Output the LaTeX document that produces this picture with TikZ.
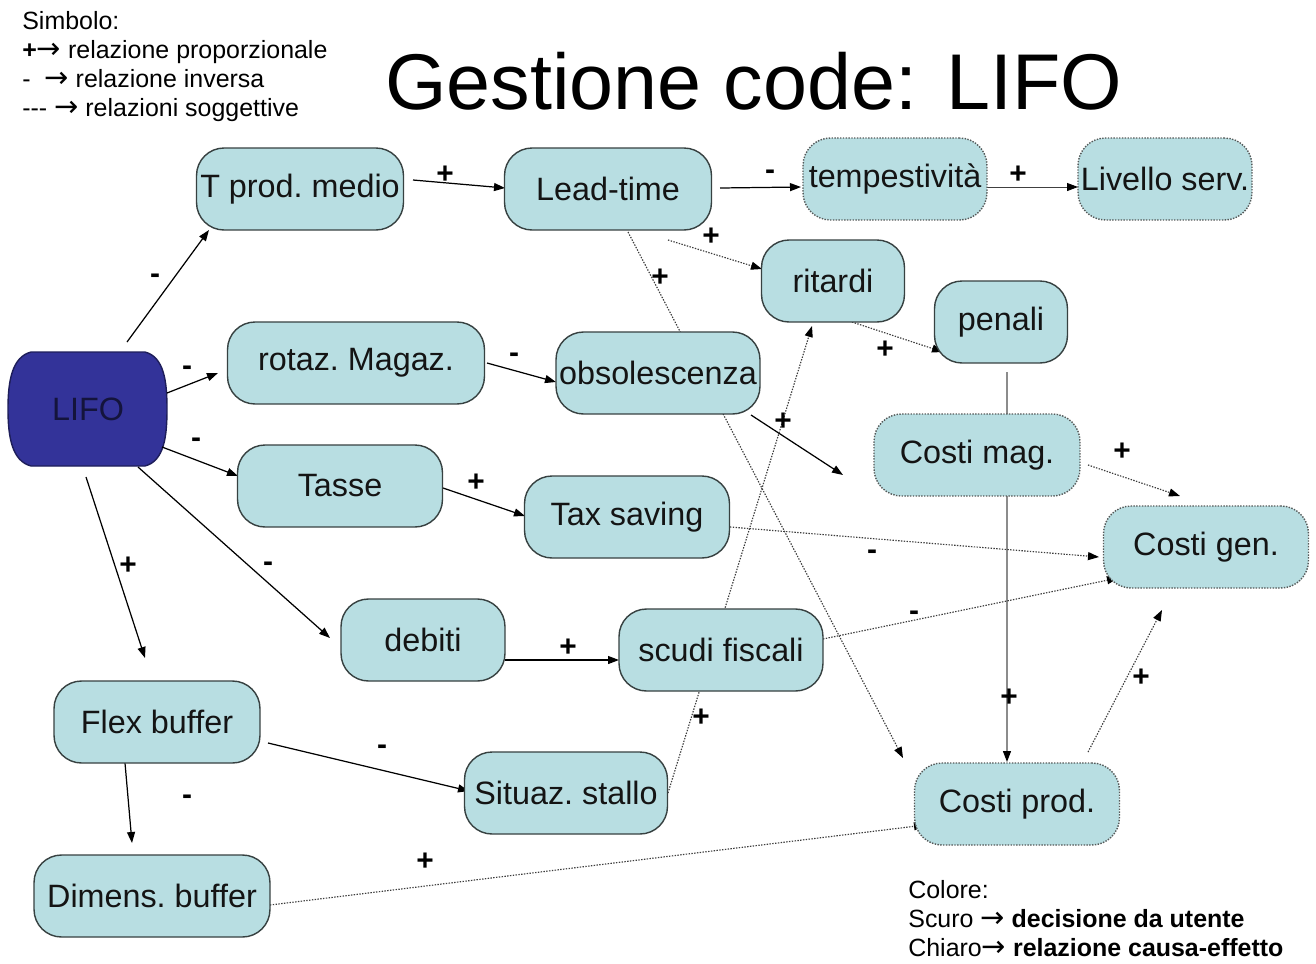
\documentclass[tikz,border=0pt]{standalone}
\usepackage{fontspec}
\setmainfont{Liberation Sans}
\newfontfamily\arrowfont{DejaVu Sans}
\usetikzlibrary{arrows.meta}
\pgfdeclarelayer{backdrop}
\pgfdeclarelayer{behind}
\pgfsetlayers{backdrop,behind,main}

\definecolor{boxfill}{RGB}{184,222,226}
\definecolor{boxline}{RGB}{55,65,65}
\definecolor{dotline}{RGB}{85,90,90}
\definecolor{lifofill}{RGB}{51,51,153}
\definecolor{lifoline}{RGB}{30,30,90}
\definecolor{lifotext}{RGB}{20,20,60}
\definecolor{ink}{RGB}{20,20,20}
\definecolor{softline}{RGB}{60,60,60}
\definecolor{greyline}{RGB}{140,140,140}

\newcommand\nodetextfont{\fontsize{18.4}{22}\selectfont\frenchspacing}
\newcommand\signtextfont{\fontsize{17}{18}\selectfont\bfseries}
\newcommand\legendtextfont{\fontsize{14.2}{16.5}\selectfont}
\newcommand\headingfont{\fontsize{45}{54}\selectfont}
\newcommand\legarrow{{\arrowfont\fontsize{16.5}{16.5}\selectfont →}}

\begin{document}
\begin{tikzpicture}[x=0.02cm, y=-0.02cm,
  box/.style={draw=boxline, line width=0.8pt, fill=boxfill, rounded corners=0.55cm,
    minimum height=1.64cm, inner sep=0pt, font=\nodetextfont, text=ink},
  dbox/.style={box, draw=dotline, dash pattern=on 0.8pt off 0.8pt},
  tip/.style={-{Triangle[length=2.2mm,width=1.6mm,color=black]}},
  rel/.style={draw=black, line width=0.7pt, tip},
  soft/.style={draw=softline, line width=0.65pt, dash pattern=on 0.8pt off 0.8pt, tip},
  plainrel/.style={draw=greyline, line width=0.7pt, tip},
  thinrel/.style={draw=black!75, line width=0.5pt, tip},
  sign/.style={font=\signtextfont, inner sep=0pt, text=black},
  legend/.style={anchor=north west, align=left, inner sep=0pt, font=\legendtextfont, text=black}
]
\useasboundingbox (0,0) rectangle (1316,964);
\begin{pgfonlayer}{backdrop}
  \fill[white] (0,0) rectangle (1316,964);
\end{pgfonlayer}

% heading and legends
\node[anchor=base west, inner sep=0pt, font=\headingfont, text=black] (title) at (385,109) {Gestione code: LIFO};
\node[legend] (symbols) at (22,11) {Simbolo:\\\textbf{+}\legarrow{} relazione proporzionale\\-\ \ \legarrow{} relazione inversa\\-{}-{}- \legarrow{} relazioni soggettive};
\node[legend] (colours) at (908,880) {Colore:\\Scuro \legarrow{} \textbf{decisione da utente}\\Chiaro\legarrow{} \textbf{relazione causa-effetto}};

% decision node
\node[minimum width=3.16cm, minimum height=2.28cm, inner sep=0pt, font=\nodetextfont, text=lifotext] (lifo) at (88,409) {LIFO};

% cause-effect nodes
\node[box, minimum width=4.14cm] (tprod) at (300,189) {T prod. medio};
\node[box, minimum width=4.14cm] (lead) at (608,189) {Lead-time};
\node[dbox, minimum width=3.68cm] (temp) at (895,179) {tempestività};
\node[dbox, minimum width=3.48cm] (liv) at (1165,179) {Livello serv.};
\node[box, minimum width=2.86cm] (rit) at (833,281) {ritardi};
\node[box, minimum width=2.66cm] (pen) at (1001,322) {penali};
\node[box, minimum width=5.14cm] (rot) at (356,363) {rotaz. Magaz.};
\node[box, minimum width=4.08cm] (obs) at (658,373) {obsolescenza};
\node[dbox, minimum width=4.12cm] (cmag) at (977,455) {Costi mag.};
\node[box, minimum width=4.10cm] (tasse) at (340,486) {Tasse};
\node[box, minimum width=4.10cm] (tax) at (627,517) {Tax saving};
\node[dbox, minimum width=4.10cm] (cgen) at (1206,547) {Costi gen.};
\node[box, minimum width=3.28cm] (deb) at (423,640) {debiti};
\node[box, minimum width=4.08cm] (scudi) at (721,650) {scudi fiscali};
\node[box, minimum width=4.12cm] (flex) at (157,722) {Flex buffer};
\node[box, minimum width=4.06cm] (stallo) at (566,793) {Situaz. stallo};
\node[dbox, minimum width=4.10cm] (cprod) at (1017,804) {Costi prod.};
\node[box, minimum width=4.72cm] (dim) at (152,896) {Dimens. buffer};

\begin{pgfonlayer}{behind}
  % barrel outline of the decision node
  \begin{scope}[shift={(lifo.center)}]
    \filldraw[fill=lifofill, draw=lifoline, line width=0.8pt]
      (-57,-57) -- (57,-57)
      .. controls (76,-52) and (79,-28) .. (79,0)
      .. controls (79,28) and (76,52) .. (57,57)
      -- (-57,57)
      .. controls (-76,52) and (-80,28) .. (-80,0)
      .. controls (-80,-28) and (-76,-52) .. (-57,-57) -- cycle;
  \end{scope}

  % solid relations
  \draw[rel] ([shift={(39,-67)}]lifo.center) -- ([shift={(-91,41)}]tprod.center);
  \draw[rel] ([shift={(79,-16)}]lifo.center) -- ([shift={(-138,10)}]rot.center);
  \draw[rel] ([shift={(74,38)}]lifo.center) -- ([shift={(-102,-10)}]tasse.center);
  \draw[rel] ([shift={(50,58)}]lifo.center) -- ([shift={(-93,-2)}]deb.center);
  \draw[rel] ([shift={(-2,68)}]lifo.center) -- ([shift={(-12,-64)}]flex.center);
  \draw[rel] ([shift={(113,-9)}]tprod.center) -- ([shift={(-103,-1)}]lead.center);
  \draw[rel] ([shift={(112,-1)}]lead.center) -- ([shift={(-94,8)}]temp.center);
  \draw[thinrel] ([shift={(92,8)}]temp.center) -- ([shift={(-87,8)}]liv.center);
  \draw[rel] ([shift={(131,0)}]rot.center) -- ([shift={(-102,9)}]obs.center);
  \draw[rel] ([shift={(93,42)}]obs.center) -- ([shift={(-134,20)}]cmag.center);
  \draw[rel] ([shift={(103,2)}]tasse.center) -- ([shift={(-102,-1)}]tax.center);
  \draw[rel] ([shift={(82,20)}]deb.center) -- ([shift={(-102,10)}]scudi.center);
  \draw[rel] ([shift={(111,21)}]flex.center) -- ([shift={(-97,-2)}]stallo.center);
  \draw[rel] ([shift={(-32,41)}]flex.center) -- ([shift={(-20,-53)}]dim.center);
  \draw[plainrel] ([shift={(6,50)}]pen.center) -- ([shift={(-10,-42)}]cprod.center);

  % subjective (dotted) relations
  \draw[soft] ([shift={(60,51)}]lead.center) -- ([shift={(-71,-12)}]rit.center);
  \draw[soft] ([shift={(20,43)}]lead.center) -- ([shift={(-114,-46)}]cprod.center);
  \draw[soft] ([shift={(19,41)}]rit.center) -- ([shift={(-58,30)}]pen.center);
  \draw[soft] ([shift={(102,0)}]stallo.center) -- ([shift={(-21,45)}]rit.center);
  \draw[soft] ([shift={(111,10)}]cmag.center) -- ([shift={(-26,-51)}]cgen.center);
  \draw[soft] ([shift={(103,10)}]tax.center) -- ([shift={(-107,10)}]cgen.center);
  \draw[soft] ([shift={(102,-11)}]scudi.center) -- ([shift={(-88,31)}]cgen.center);
  \draw[soft] ([shift={(71,-52)}]cprod.center) -- ([shift={(-44,63)}]cgen.center);
  \draw[soft] ([shift={(118,9)}]dim.center) -- ([shift={(-92,21)}]cprod.center);
\end{pgfonlayer}

% relation signs
\node[sign] (s1) at (155,279) {-};
\node[sign] (s2) at (187,371) {-};
\node[sign] (s3) at (196,443) {-};
\node[sign] (s4) at (268,567) {-};
\node[sign] (s5) at (128,566) {+};
\node[sign] (s6) at (445,175) {+};
\node[sign] (s7) at (770,175) {-};
\node[sign] (s8) at (1018,175) {+};
\node[sign] (s9) at (711,237) {+};
\node[sign] (s10) at (660,278) {+};
\node[sign] (s11) at (885,350) {+};
\node[sign] (s12) at (514,358) {-};
\node[sign] (s13) at (783,422) {+};
\node[sign] (s14) at (1122,452) {+};
\node[sign] (s15) at (476,483) {+};
\node[sign] (s16) at (872,555) {-};
\node[sign] (s17) at (914,616) {-};
\node[sign] (s18) at (568,648) {+};
\node[sign] (s19) at (1141,678) {+};
\node[sign] (s20) at (1009,698) {+};
\node[sign] (s21) at (701,718) {+};
\node[sign] (s22) at (382,750) {-};
\node[sign] (s23) at (187,800) {-};
\node[sign] (s24) at (425,862) {+};
\end{tikzpicture}
\end{document}
